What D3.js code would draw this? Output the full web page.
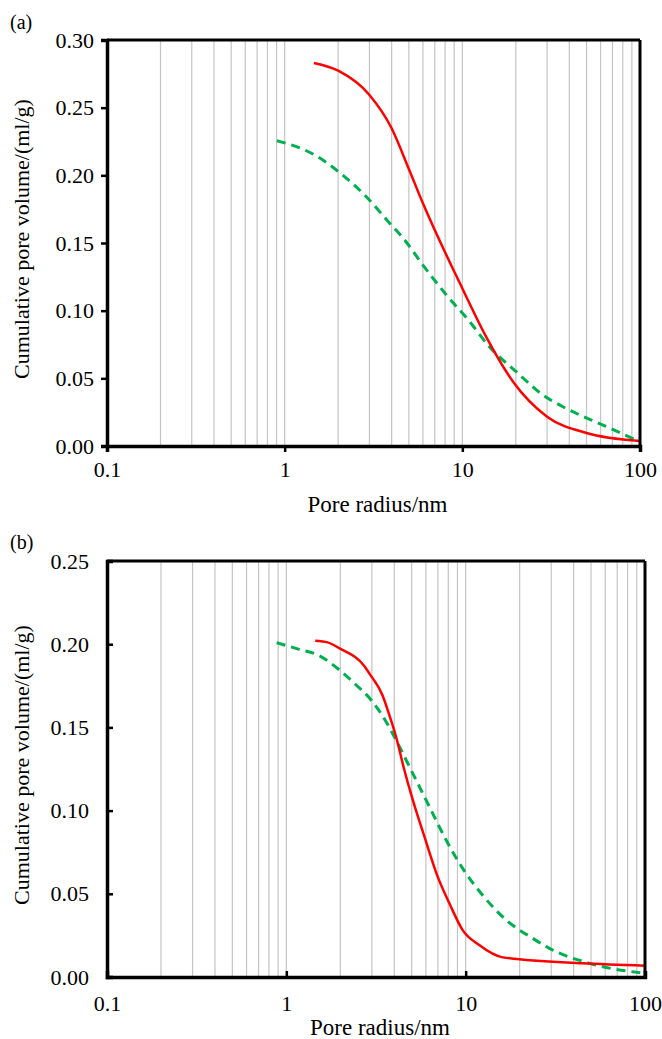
<!DOCTYPE html>
<html lang="en">
<head>
  <meta charset="UTF-8">
  <title>pore volume</title>
  <script src="https://d3js.org/d3.v7.min.js"></script>
  <style>
    body { margin: 0; background: #fff; }
    text { font-family: "Liberation Serif", "Times New Roman", serif; fill: #000; }
  </style>
</head>
<body>
<svg></svg>
<script>
  // pore radius (nm) / cumulative volume (ml/g)
  const redA_r = [1.46, 2.0, 3.0, 4.0, 4.94, 6.0, 10.1, 13.6, 19.3, 30, 50, 100]
  const redA_v = [0.283, 0.2773, 0.2594, 0.2348, 0.2064, 0.1793, 0.1153, 0.0808, 0.0475, 0.0217, 0.0096, 0.0037]
  const greenA_r = [0.905, 1.51, 2.04, 2.88, 3.9, 4.63, 6.0, 8.13, 11.0, 14.2, 20.1, 28.4, 36.8, 61.8, 100]
  const greenA_v = [0.2256, 0.2143, 0.202, 0.1842, 0.1646, 0.1538, 0.1337, 0.1116, 0.0919, 0.0734, 0.0549, 0.0377, 0.029, 0.0155, 0.0032]

  const redB_r = [1.45, 1.7, 1.98, 2.72, 2.9, 3.45, 3.75, 4.09, 4.55, 5.07, 5.89, 6.98, 8.11, 9.62, 11.9, 16.1, 44.9, 100]
  const redB_v = [0.2021, 0.2011, 0.1975, 0.1869, 0.1825, 0.1689, 0.1575, 0.1444, 0.1244, 0.1064, 0.0843, 0.0603, 0.0443, 0.0282, 0.0192, 0.0118, 0.0082, 0.0068]
  const greenB_r = [0.883, 1.18, 1.5, 1.98, 2.45, 2.97, 3.6, 4.09, 4.96, 6.28, 7.78, 9.62, 12.4, 16.8, 23.6, 29.3, 49, 100]
  const greenB_v = [0.2009, 0.1969, 0.1935, 0.1845, 0.1755, 0.1665, 0.1534, 0.1424, 0.1244, 0.1023, 0.0823, 0.0653, 0.0493, 0.0343, 0.0233, 0.0172, 0.0082, 0.0022]

  const xTicks = [0.1, 1, 10, 100]
  const yTicksA = [0, 0.05, 0.10, 0.15, 0.20, 0.25, 0.30]
  const yTicksB = [0, 0.05, 0.10, 0.15, 0.20, 0.25]

  const width = 662, height = 1039
  const svg = d3.select('svg')
      .attr('width', width)
      .attr('height', height)
      .attr('viewBox', [0, 0, width, height])

  const zip = (a, b) => a.map((d, i) => [d, b[i]])
  const serif = '"Liberation Serif", "Times New Roman", serif'

  function panel(o) {
    const x = d3.scaleLog().domain([0.1, 100]).range([o.left, o.right])
    const y = d3.scaleLinear().domain([0, o.ymax]).range([o.bottom, o.top])
    const g = svg.append('g')

    // vertical grid at 0.2..0.9, 1..9, 10..90
    const grid = x.ticks().filter(d => d > 0.1 && d < 100)
    g.append('g').selectAll('line').data(grid).join('line')
        .attr('x1', d => x(d)).attr('x2', d => x(d))
        .attr('y1', o.top).attr('y2', o.bottom)
        .attr('stroke', '#c4c4c4').attr('stroke-width', 1.2)

    const line = d3.line().x(d => x(d[0])).y(d => y(d[1])).curve(d3.curveMonotoneX)
    g.append('path').datum(zip(o.green_r, o.green_v))
        .attr('d', line).attr('fill', 'none')
        .attr('stroke', '#00b050').attr('stroke-width', 3)
        .attr('stroke-dasharray', '9,6')
    g.append('path').datum(zip(o.red_r, o.red_v))
        .attr('d', line).attr('fill', 'none')
        .attr('stroke', '#ff0000').attr('stroke-width', 2.5)

    // frame: top and right borders
    g.append('line').attr('x1', o.left).attr('x2', o.right).attr('y1', o.top).attr('y2', o.top)
        .attr('stroke', '#000').attr('stroke-width', 3)
    g.append('line').attr('x1', o.right).attr('x2', o.right).attr('y1', o.top).attr('y2', o.bottom)
        .attr('stroke', '#000').attr('stroke-width', 3)

    const ax = g.append('g')
        .attr('transform', `translate(0,${o.bottom})`)
        .call(d3.axisBottom(x).tickValues(xTicks).tickFormat(d3.format('')).tickSize(o.tickDir * 6).tickPadding(o.xPad))
    const ay = g.append('g')
        .attr('transform', `translate(${o.left},0)`)
        .call(d3.axisLeft(y).tickValues(o.yTicks).tickFormat(d3.format('.2f')).tickSize(o.tickDir * 6).tickPadding(o.yPad))
    ;[ax, ay].forEach(a => {
      a.attr('font-family', serif)
      a.select('.domain').attr('stroke-width', 3.5)
      a.selectAll('.tick line').attr('stroke-width', 2.5)
      a.selectAll('.tick text').attr('font-size', 22).attr('fill', '#000')
    })

    svg.append('text').attr('x', 10).attr('y', o.tagY).attr('font-size', 20).text(o.tag)
    svg.append('text')
        .attr('x', (o.left + o.right) / 2 + 4).attr('y', o.xTitleY)
        .attr('text-anchor', 'middle').attr('font-size', 23)
        .text('Pore radius/nm')
    svg.append('text')
        .attr('transform', `translate(29,${(o.top + o.bottom) / 2 - 4}) rotate(-90)`)
        .attr('text-anchor', 'middle').attr('font-size', 22)
        .text('Cumulative pore volume/(ml/g)')
  }

  panel({
    left: 107, right: 640, top: 40, bottom: 446, ymax: 0.30, yTicks: yTicksA,
    tickDir: 1, xPad: 9, yPad: 7,
    red_r: redA_r, red_v: redA_v, green_r: greenA_r, green_v: greenA_v,
    tag: '(a)', tagY: 29, xTitleY: 512
  })
  panel({
    left: 107, right: 645, top: 561, bottom: 977, ymax: 0.25, yTicks: yTicksB,
    tickDir: -1, xPad: 18, yPad: 18,
    red_r: redB_r, red_v: redB_v, green_r: greenB_r, green_v: greenB_v,
    tag: '(b)', tagY: 549, xTitleY: 1035
  })
</script>
</body>
</html>
